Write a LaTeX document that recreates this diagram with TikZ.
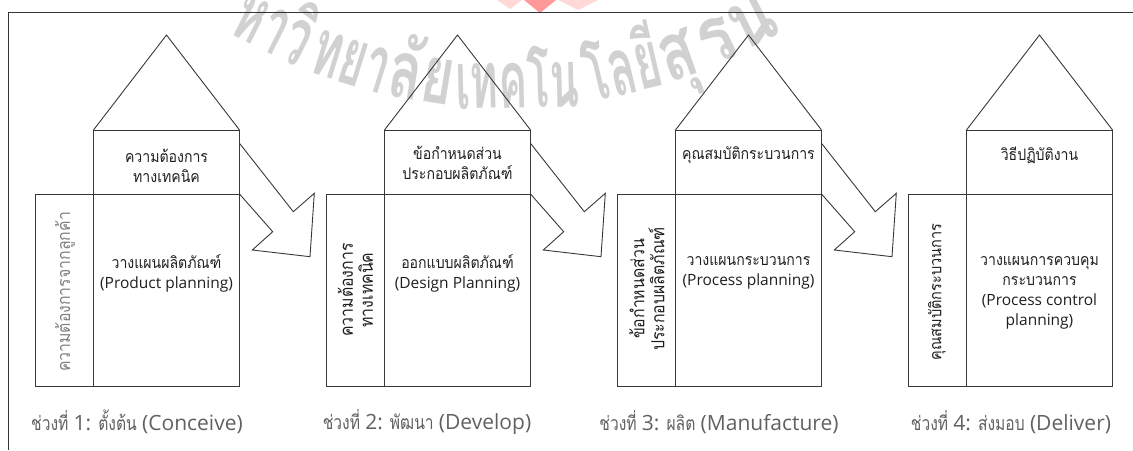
\documentclass[tikz,border=0pt]{standalone}
\usepackage{fontspec}
\usepackage{graphicx}
\newfontfamily\thai[Script=Thai,FakeStretch=0.88]{Loma}
\newfontfamily\thaiL[Script=Thai,FakeStretch=0.8]{Loma}
\newfontfamily\wmfont[Script=Thai]{Loma}
\newfontfamily\latn{Open Sans}
\newcommand\lt[1]{{\latn\fontsize{15.5}{20}\selectfont #1}}
\newcommand\llt[1]{{\latn\fontsize{21}{24}\selectfont #1}}
\usetikzlibrary{calc}
\begin{document}
\begin{tikzpicture}[x=1pt,y=-1pt,
  ln/.style={draw=black!78, line width=0.9pt},
  bx/.style={ln, rectangle, inner sep=0pt, outer sep=0pt, anchor=north west},
  txt/.style={align=center, font=\thai\fontsize{16}{20}\selectfont, text=black!88, inner sep=0pt},
  vtxt/.style={align=center, font=\thai\fontsize{18}{20}\selectfont, text=black!88, inner sep=0pt, rotate=90},
  lbl/.style={font=\thaiL\fontsize{19.5}{24}\selectfont, text=black!62, inner sep=0pt},
  wm/.style={font=\wmfont\bfseries\fontsize{80}{80}\selectfont, text=black!18, inner sep=0pt, anchor=base}]
\useasboundingbox (0,0) rectangle (1133,450);
% watermark
\begin{scope}
\clip (0,0) rectangle (1133,450);
\fill[red!70, opacity=0.22] (497,0) -- (522,0) -- (510,9) -- cycle;
\fill[red!80, opacity=0.5] (524,0) -- (556,0) -- (540,13) -- cycle;
\fill[red!70, opacity=0.22] (558,0) -- (598,0) -- (578,10) -- cycle;
\foreach \a/\w/\t in {-26.7/79/หาวิ,-17.3/78/ทยา,-9.3/65/ลัย,1.4/124/เทคโน,13.2/77/โลยี,19.5/36/สุ,26.6/80/รน}
  \node[wm, rotate=\a] (wm\w) at ({505+540*sin(\a)},{-432+540*cos(\a)}) {\resizebox{\w pt}{\height}{\t}};
\end{scope}
% frame
\draw[draw=black!80, line width=1.1pt] (8.3,450) -- (8.3,12.3) -- (1133,12.3);
% houses
\foreach \i in {1,2,3,4}{
  \pgfmathsetmacro\dx{291*(\i-1)}
  \node[bx, minimum width=58pt, minimum height=192pt] (l\i) at ({35.5+\dx},194) {};
  \node[bx, minimum width=146pt, minimum height=192pt] (m\i) at ({93.5+\dx},194) {};
  \node[bx, minimum width=146pt, minimum height=64pt] (u\i) at ({93.5+\dx},130) {};
  \coordinate (apex\i) at ({166.5+\dx},35);
  \draw[ln, line join=miter] (u\i.north west) -- (apex\i) -- (u\i.north east);
}
% block arrows
\foreach \i in {1,2,3}{
  \pgfmathsetmacro\dx{291*(\i-1)}
  \draw[ln, line join=miter] (m\i.east |- 0,143.3) -- ({293.3+\dx},211.7) -- ({314.3+\dx},193.3)
     -- ({310+\dx},256.7) -- ({252.3+\dx},250) -- ({272.7+\dx},231.7) -- (m\i.north east);
}
% texts house 1
\node[txt] (ut1) at (166.5,166) {ความต้องการ\\ทางเทคนิค};
\node[txt] (mt1) at (166.5,273) {วางแผนผลิตภัณฑ์\\\lt{(Product planning)}};
\node[vtxt, text=black!50] (lt1) at (65,292) {ความต้องการจากลูกค้า};
\node[lbl] (lb1) at (137,422) {ช่วงที่ \llt{1:} ตั้งต้น \llt{(Conceive)}};
% house 2
\node[txt] (ut2) at (457.5,163) {ข้อกำหนดส่วน\\ประกอบผลิตภัณฑ์};
\node[txt] (mt2) at (457.5,273) {ออกแบบผลิตภัณฑ์\\\lt{(Design Planning)}};
\node[vtxt] (lt2) at (355.5,290) {ความต้องการ\\ทางเทคนิค};
\node[lbl] (lb2) at (427,422) {ช่วงที่ \llt{2:} พัฒนา \llt{(Develop)}};
% house 3
\node[txt] (ut3) at (748.5,155) {คุณสมบัติกระบวนการ};
\node[txt] (mt3) at (748.5,273) {วางแผนกระบวนการ\\\lt{(Process planning)}};
\node[vtxt] (lt3) at (647,289) {ข้อกำหนดส่วน\\ประกอบผลิตภัณฑ์};
\node[lbl] (lb3) at (719,422) {ช่วงที่ \llt{3:} ผลิต \llt{(Manufacture)}};
% house 4
\node[txt] (ut4) at (1039.5,155) {วิธีปฏิบัติงาน};
\node[txt] (mt4) at (1039.5,293) {วางแผนการควบคุม\\กระบวนการ\\\lt{(Process control}\\\lt{planning)}};
\node[vtxt, font=\thai\fontsize{16.5}{20}\selectfont] (lt4) at (937,292) {คุณสมบัติกระบวนการ};
\node[lbl] (lb4) at (1011,422) {ช่วงที่ \llt{4:} ส่งมอบ \llt{(Deliver)}};
\end{tikzpicture}
\end{document}
